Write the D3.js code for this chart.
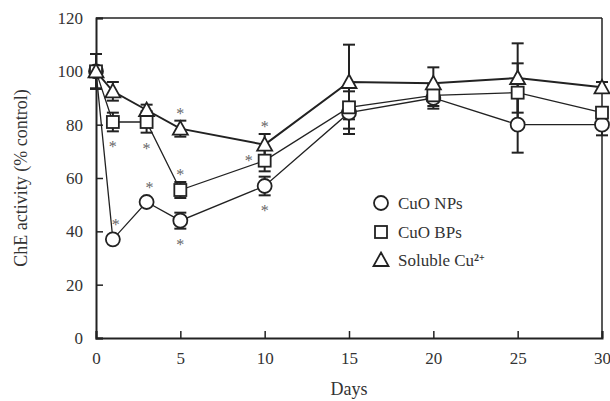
<!DOCTYPE html>
<html><head><meta charset="utf-8">
<script src="https://cdn.jsdelivr.net/npm/d3@7"></script>
<style>body{margin:0;background:#fff}svg{display:block}text{font-family:"Liberation Serif","Times New Roman",serif}</style>
</head><body><svg id="c" width="610" height="401"></svg>
<script>
const days = [0, 1, 3, 5, 10, 15, 20, 25, 30];
const npsMean = [100, 37, 51, 44, 57, 84.5, 90, 80, 80];
const npsErr  = [6.5, 0, 0, 3, 3.5, 8, 4, 10.5, 4];
const bpsMean = [100, 81, 81, 55.5, 66.5, 86.5, 91, 92, 84.5];
const bpsErr  = [6.5, 3.5, 4, 3, 4, 8, 4, 11, 2];
const cuMean  = [100, 92.5, 85.5, 78.5, 72.5, 96, 95.5, 97.5, 94];
const cuErr   = [6.5, 3.5, 2, 3, 4, 14, 6, 13, 2];
const seriesNames = ["CuO NPs", "CuO BPs", "Soluble Cu"];
const xTicks = [0, 5, 10, 15, 20, 25, 30];
const yTicks = [0, 20, 40, 60, 80, 100, 120];
// significance marks: [series index, day, side]
const sigMarks = [[0,1,"above"],[1,1,"below"],[0,3,"above"],[1,3,"below"],[2,5,"above"],[1,5,"above"],[0,5,"below"],[2,10,"above"],[1,10,"left"],[0,10,"below"]];

const svg = d3.select("#c");
const m = {l:96, r:602, t:18, b:338};
const x = d3.scaleLinear().domain([0,30]).range([m.l, m.r]);
const y = d3.scaleLinear().domain([0,120]).range([m.b, m.t]);
const ink = "#222";

// frame
svg.append("line").attr("x1",m.l).attr("x2",m.r).attr("y1",m.t).attr("y2",m.t).attr("stroke",ink).attr("stroke-width",1.5);
svg.append("line").attr("x1",m.r).attr("x2",m.r).attr("y1",m.t).attr("y2",m.b).attr("stroke",ink).attr("stroke-width",1.5);

const xAxis = svg.append("g").attr("transform",`translate(0,${m.b})`)
  .call(d3.axisBottom(x).tickValues(xTicks).tickSize(-7).tickPadding(14).tickFormat(d3.format("d")));
const yAxis = svg.append("g").attr("transform",`translate(${m.l},0)`)
  .call(d3.axisLeft(y).tickValues(yTicks).tickSize(-7).tickPadding(13).tickFormat(d3.format("d")));
[xAxis,yAxis].forEach(a=>{
  a.select(".domain").attr("stroke",ink).attr("stroke-width",2);
  a.selectAll(".tick line").attr("stroke",ink).attr("stroke-width",1.5);
  a.selectAll(".tick text").attr("fill","#333").style("font-size","17px");
});
xAxis.selectAll(".tick text").attr("dy","0.71em");

svg.append("text").attr("x",(m.l+m.r)/2).attr("y",395).attr("text-anchor","middle")
  .attr("fill","#333").style("font-size","18px").text("Days");
svg.append("text").attr("transform",`translate(27,${(m.t+m.b)/2}) rotate(-90)`).attr("text-anchor","middle")
  .attr("fill","#333").style("font-size","18px").text("ChE activity (% control)");

const series = [
  {mean:npsMean, err:npsErr, shape:"circle", w:1.3},
  {mean:bpsMean, err:bpsErr, shape:"square", w:1.3},
  {mean:cuMean, err:cuErr, shape:"triangle", w:2}
];

function marker(g, shape, cx, cy){
  if(shape==="circle") g.append("circle").attr("cx",cx).attr("cy",cy).attr("r",7);
  else if(shape==="square") g.append("rect").attr("x",cx-6).attr("y",cy-6).attr("width",12).attr("height",12);
  else g.append("path").attr("d",`M${cx},${cy-7.5}L${cx+7.5},${cy+6}L${cx-7.5},${cy+6}Z`);
}

const line = d3.line().x(d=>x(d[0])).y(d=>y(d[1]));
series.forEach(s=>{
  svg.append("path").datum(days.map((d,i)=>[d,s.mean[i]])).attr("d",line)
    .attr("fill","none").attr("stroke",ink).attr("stroke-width",s.w);
});
series.forEach(s=>{
  const g = svg.append("g").attr("stroke",ink).attr("stroke-width",2);
  days.forEach((d,i)=>{
    if(!s.err[i]) return;
    const cx=x(d), y1=y(s.mean[i]+s.err[i]), y2=y(s.mean[i]-s.err[i]);
    g.append("line").attr("x1",cx).attr("x2",cx).attr("y1",y1).attr("y2",y2);
    g.append("line").attr("x1",cx-6).attr("x2",cx+6).attr("y1",y1).attr("y2",y1);
    g.append("line").attr("x1",cx-6).attr("x2",cx+6).attr("y1",y2).attr("y2",y2);
  });
});
series.forEach(s=>{
  const g = svg.append("g").attr("fill","#fff").attr("stroke",ink).attr("stroke-width",1.8);
  days.forEach((d,i)=>marker(g,s.shape,x(d),y(s.mean[i])));
});
sigMarks.forEach(([si,d,side])=>{
  const i = days.indexOf(d), s = series[si];
  let px = x(d), py = y(s.mean[i]);
  const e = s.err[i]*(y(0)-y(1));
  if(side==="above"){ py = py - Math.max(e,7) - 10; if(!s.err[i]) px += 3; }
  else if(side==="below"){ py = py + Math.max(e,7) + 13; }
  else { px -= 16; py -= 3; }
  svg.append("text").attr("x",px).attr("y",py+8).attr("text-anchor","middle")
    .attr("fill","#666").style("font-size","16px").text("*");
});

const lg = svg.append("g");
const lx = 381, ly = [203, 232, 260];
series.forEach((s,i)=>{
  const g = lg.append("g").attr("fill","#fff").attr("stroke",ink).attr("stroke-width",1.8);
  marker(g, s.shape, lx, ly[i]);
  const t = lg.append("text").attr("x",lx+17).attr("y",ly[i]).attr("dy","0.35em")
    .attr("fill","#333").style("font-size","17px").text(seriesNames[i]);
  if(i===2) t.append("tspan").attr("dy","-0.45em").style("font-size","10px").style("font-weight","bold").text("2+");
});
</script></body></html>
